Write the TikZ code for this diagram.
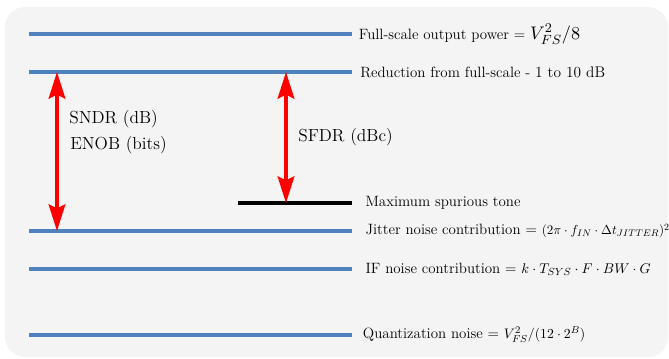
\documentclass[tikz,border=0pt]{standalone}
\usepackage{graphicx}
\usetikzlibrary{arrows.meta,positioning}

\definecolor{levelblue}{RGB}{79,129,189}
\definecolor{panelgray}{RGB}{244,244,244}

\newcommand{\fsz}[1]{\fontsize{#1}{#1}\selectfont}
\newcommand{\fitw}[2]{\resizebox{#1}{!}{#2}}

\tikzset{
  panelbox/.style={fill=panelgray, rounded corners=15pt},
  levelline/.style={levelblue, line width=2.3pt},
  spurline/.style={black, line width=2.4pt},
  spanarrow/.style={red, line width=2.6pt,
    {Stealth[length=20pt,width=12.5pt,inset=3pt]}-{Stealth[length=20pt,width=12.5pt,inset=3pt]}},
  levellbl/.style={anchor=west, inner sep=0pt, font=\fsz{11.2}},
  spanlbl/.style={anchor=west, inner sep=0pt, font=\fsz{13.1}}
}

\begin{document}
\begin{tikzpicture}[x=0.75pt,y=-0.75pt]

\useasboundingbox (0,0) rectangle (669,358);
\fill[panelbox] (5,7) rectangle (668,357);

% power levels
\foreach \y/\n in {34/fs,72/rd,231/jt,269/ifn,335/qz}
{\draw[levelline] (29,\y) coordinate (\n W) -- (352,\y) coordinate (\n E);}
\draw[spurline] (238,203) coordinate (spW) -- (352,203) coordinate (spE);

% level texts
\node[levellbl, right=5pt of fsE] (fsT) {Full-scale output power = \fitw{37.5pt}{$V_{FS}^2/8$}};
\node[levellbl, right=6pt of rdE] (rdT) {Reduction from full-scale - \fitw{52.5pt}{1 to 10 dB}};
\node[levellbl, right=10pt of spE] (spT) {Maximum spurious tone};
\node[levellbl, right=10pt of jtE] (jtT) {Jitter noise contribution = \fitw{96pt}{$(2\pi\cdot f_{IN}\cdot\Delta t_{JITTER})^2$}};
\node[levellbl, right=10pt of ifnE] (ifnT) {IF noise contribution = \fitw{97pt}{$k\cdot T_{SYS}\cdot F\cdot BW\cdot G$}};
\node[levellbl, right=8pt of qzE] (qzT) {Quantization noise = \fitw{61pt}{$V_{FS}^2/(12\cdot 2^B)$}};

% ranges
\coordinate (sndrT) at (57,72);
\coordinate (sndrB) at (57,231);
\coordinate (sfdrT) at (286,72);
\coordinate (sfdrB) at (286,203);
\draw[spanarrow] (sndrT) -- (sndrB);
\draw[spanarrow] (sfdrT) -- (sfdrB);

\node[spanlbl] (sndr) at (69,119) {SNDR (dB)};
\node[spanlbl] (enob) at (70,145) {ENOB (bits)};
\node[spanlbl] (sfdr) at (298,137) {SFDR (dBc)};

\end{tikzpicture}
\end{document}
